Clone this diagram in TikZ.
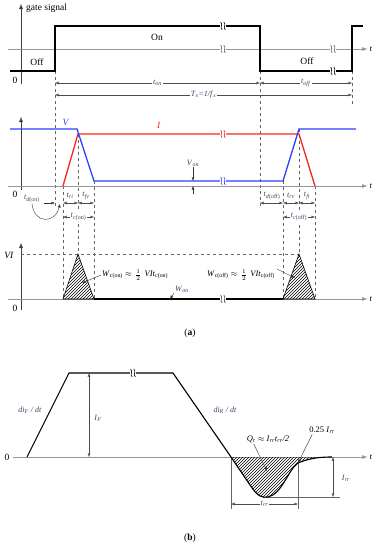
\documentclass[tikz,border=0pt]{standalone}
\usepackage{fontspec}
\setmainfont{Liberation Serif}
\usetikzlibrary{arrows.meta,patterns,positioning}
\definecolor{axisgray}{RGB}{150,150,150}
\definecolor{vblue}{RGB}{45,65,255}
\definecolor{ired}{RGB}{250,35,35}
\definecolor{labink}{RGB}{60,70,105}
% italic symbol with subscript, set in the text font
\newcommand{\sy}[2]{\textit{#1}\textsubscript{#2}}

\begin{document}
\begin{tikzpicture}[x=1pt,y=-1pt,
  axis/.style={draw=axisgray,line width=1pt,-{Latex[length=6pt,width=4pt]}},
  yaxis/.style={draw=black!75,thin,-{Latex[length=5pt,width=4pt]}},
  wave/.style={line width=1.3pt},
  guide/.style={dashed,draw=black!60,thin},
  dim/.style={{Latex[length=3.5pt,width=3pt]}-{Latex[length=3.5pt,width=3pt]},draw=black!70,thin},
  leader/.style={-{Latex[length=3.5pt,width=3pt]},draw=black!80,thin},
  lab/.style={font=\fontsize{8}{9}\selectfont,text=labink,inner sep=1pt},
  txt/.style={font=\fontsize{9.5}{11}\selectfont,inner sep=1pt},
  frm/.style={font=\fontsize{8.5}{9}\selectfont,inner sep=1pt},
  brk/.pic={
    \fill[white] (-2.6,-3.8) rectangle (2.6,3.8);
    \foreach \dx in {-1.6,1.6}
      \draw[pic actions,semithick] ({\dx-0.8},-4) .. controls ({\dx+2.2},-1.5) and ({\dx-2.2},1.5) .. ({\dx+0.8},4);
  }
]
  \useasboundingbox (0,0) rectangle (379,550);

  % ---- (a) gate signal ----
  \draw[guide] (55,71) -- (55,206);
  \draw[guide] (260,71) -- (260,208);
  \draw[guide] (352,71) -- (352,104);
  \draw[yaxis] (21,84) -- (21,4);
  \node[txt,anchor=west] (gs) at (25,8) {gate signal};
  \draw[axis] (8,49) -- (368,49) node[right,frm] (tg) {\textit{t}};
  \draw[wave] (10,71) -- (55,71) -- (55,26) -- (260,26) -- (260,71) -- (352,71) -- (352,26) -- (363,26);
  \pic at (223,26) {brk};
  \pic[black!60] at (223,49) {brk};
  \pic[black!60] at (333,49) {brk};
  \pic at (333,71) {brk};
  \node[txt] (off1) at (37,62) {Off};
  \node[txt] (on) at (157,37) {On};
  \node[txt] (off2) at (307,61) {Off};
  \node[txt] (z1) at (15,80) {0};
  \draw[dim] (55,83) -- node[lab,fill=white] (ton) {\sy{t}{\textit{on}}} (260,83);
  \draw[dim] (260,83) -- node[lab,fill=white] (toff) {\sy{t}{\textit{off}}} (352,83);
  \draw[dim] (55,95) -- node[lab,fill=white] (ts) {\sy{T}{\textit{s}}\textit{=1/f}\textsubscript{\textit{s}}} (352,95);

  % ---- V and I ----
  \draw[guide] (63,186) -- (63,299);
  \draw[guide] (78,134) -- (78,254);
  \draw[guide] (94,181) -- (94,299);
  \draw[guide] (283,181) -- (283,299);
  \draw[guide] (299,129) -- (299,254);
  \draw[guide] (315,186) -- (315,299);
  \draw[yaxis] (21,190) -- (21,117);
  \draw[axis] (8,186) -- (368,186) node[right,frm] (tv) {\textit{t}};
  \draw[wave,ired] (63,186) -- (78,134) -- (299,134) -- (315,186);
  \draw[wave,vblue] (10,129) -- (77,129) -- (94,181) -- (283,181) -- (299,129) -- (356,129);
  \pic[ired] at (223,134) {brk};
  \pic[vblue] at (223,181) {brk};
  \node[txt,text=vblue] (vl) at (66,122) {\textit{V}};
  \node[txt,text=ired] (il) at (159,125) {\textit{I}};
  \node[txt] (z2) at (15,194) {0};
  \node[lab] (von) at (193,163) {\sy{V}{\textit{on}}};
  \coordinate (vtop) at (193,181);
  \coordinate (vbot) at (193,186);
  \draw[leader] (von.south) -- (vtop);
  \draw[leader] (193,194) -- (vbot);
  % switching intervals
  \node[lab] (tdon) at (32,199) {\sy{t}{\textit{d}(on)}};
  \coordinate (tdonr) at (55,203);
  \coordinate (tdonc) at (60,204);
  \draw[leader] (44,203) -- (tdonr);
  \draw[leader] (tdon.south) .. controls (34,224) and (55,224) .. (tdonc);
  \node[lab] (tri1) at (70,196) {\sy{t}{\textit{ri}}};
  \node[lab] (tfv1) at (86,196) {\sy{t}{\textit{fv}}};
  \draw[dim] (63,203) -- (78,203);
  \draw[dim] (78,203) -- (94,203);
  \draw[dim] (63,217) -- node[lab,fill=white] (tcon) {\sy{t}{\textit{c}(on)}} (94,217);
  \node[lab] (tdoff) at (272,196) {\sy{t}{\textit{d}(off)}};
  \node[lab] (trv2) at (291,196) {\sy{t}{\textit{rv}}};
  \node[lab] (tfi2) at (307,196) {\sy{t}{\textit{fi}}};
  \draw[dim] (260,203) -- (283,203);
  \draw[dim] (283,203) -- (299,203);
  \draw[dim] (299,203) -- (315,203);
  \draw[dim] (283,217) -- node[lab,fill=white] (tcoff) {\sy{t}{\textit{c}(off)}} (315,217);

  % ---- VI ----
  \draw[yaxis] (21,310) -- (21,243);
  \node[txt] (vil) at (9,255) {\textit{VI}};
  \node[txt] (z3) at (15,308) {0};
  \draw[guide] (21,254) -- (299,254);
  \draw[axis] (8,299) -- (368,299) node[right,frm] (tw) {\textit{t}};
  \draw[semithick,pattern=north east lines] (63,299) -- (78,254) -- (94,299) -- cycle;
  \draw[semithick,pattern=north east lines] (283,299) -- (299,254) -- (315,299) -- cycle;
  \draw[line width=1.4pt] (94,299) -- (283,299);
  \pic[black!70] at (223,299) {brk};
  \node[frm,anchor=west] (wcon) at (101,275) {\sy{W}{c(on)} $\approx$};
  \node[frm,right=1pt of wcon] (wconh) {$\frac{1}{2}$};
  \node[frm,right=1pt of wconh] (wconv) {\sy{VIt}{c(on)}};
  \node[frm,anchor=east] (wcoffv) at (276,275) {\sy{VIt}{c(off)}};
  \node[frm,left=1pt of wcoffv] (wcoffh) {$\frac{1}{2}$};
  \node[frm,left=1pt of wcoffh] (wcoff) {\sy{W}{c(off)} $\approx$};
  \node[lab] (won) at (182,289) {\sy{W}{\textit{on}}};
  \coordinate (wconp) at (82,283);
  \coordinate (wcoffp) at (295,278);
  \coordinate (wonp) at (170,299);
  \draw[leader] (wcon.west) -- (wconp);
  \draw[leader] (wcoffv.east) ++(1,-6) -- (wcoffp);
  \draw[leader] (won.south west) -- (wonp);
  \node[txt] (capa) at (190,333) {(\textbf{a})};

  % ---- (b) reverse recovery ----
  \draw[axis] (13,457) -- (368,457) node[right,frm] (tb) {\textit{t}};
  \node[txt] (z4) at (7,457) {0};
  \fill[pattern=north east lines] (231,457) -- (250,485) .. controls (258,497) and (262,498) .. (268,497)
    .. controls (282,494) and (288,470) .. (298,463) .. controls (310,458) and (320,457) .. (332,457) -- cycle;
  \draw[thin,draw=black!60] (231,457) -- (231,509);
  \draw[thin,draw=black!60] (298,463) -- (298,509);
  \draw[thin,draw=black!60] (266,497) -- (340,497);
  \draw[line width=1.1pt] (27,457) -- (69,373) -- (173,373) -- (231,457) -- (250,485)
    .. controls (258,497) and (262,498) .. (268,497)
    .. controls (282,494) and (288,470) .. (298,463)
    .. controls (310,458) and (320,457) .. (332,457);
  \pic at (133,373) {brk};
  \draw[dim] (89,373) -- (89,457);
  \node[lab] (ifl) at (98,418) {\sy{I}{\textit{F}}};
  \node[lab] (dif) at (30,410) {\textit{di}\textsubscript{\textit{F}} \textit{/ dt}};
  \node[lab] (dir) at (225,410) {\textit{di}\textsubscript{\textit{R}} \textit{/ dt}};
  \draw[dim] (231,504) -- node[lab,fill=white] (trr) {\sy{t}{\textit{rr}}} (298,504);
  \draw[dim] (333,457) -- (333,497);
  \node[lab] (irr) at (346,478) {\sy{I}{\textit{rr}}};
  \node[frm] (qr) at (268,439) {\sy{Q}{\textit{r}} $\approx$ \sy{I}{\textit{rr}}\sy{t}{\textit{rr}}\textit{/2}};
  \node[frm] (q25) at (322,430) {0.25 \sy{I}{\textit{rr}}};
  \coordinate (qrp) at (267,471);
  \coordinate (q25p) at (298,463);
  \draw[leader] (qr.south west) ++(8,0) -- (qrp);
  \draw[leader] (q25.south west) ++(4,0) -- (q25p);
  \node[txt] (capb) at (190,538) {(\textbf{b})};
\end{tikzpicture}
\end{document}
